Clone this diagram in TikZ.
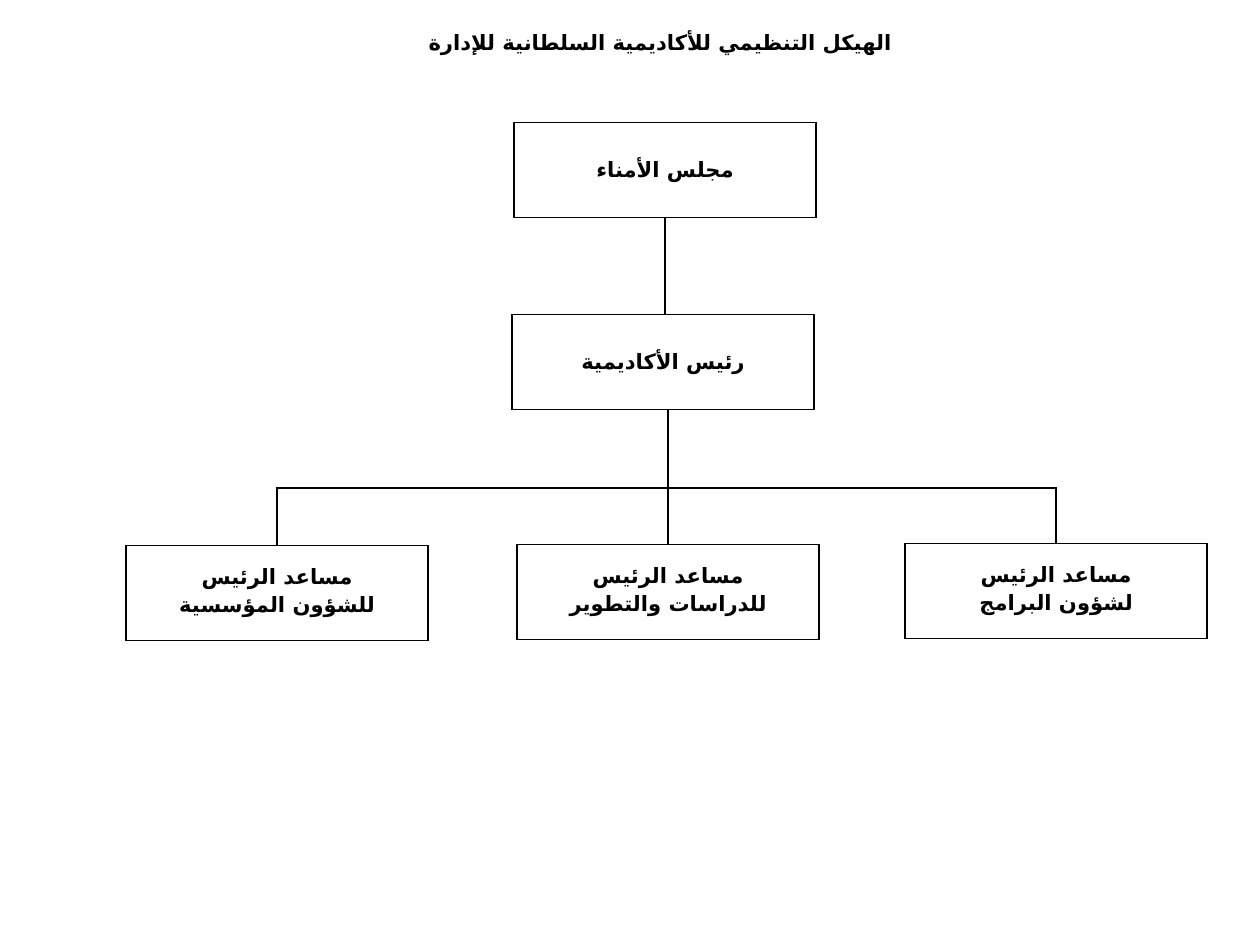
\documentclass[tikz,border=0pt]{standalone}
\usepackage{fontspec}
\newfontfamily\arabfont[Script=Arabic]{DejaVu Sans}
\usetikzlibrary{positioning}
\TeXXeTstate=1
\newcommand{\ar}[1]{\arabfont\beginR #1\endR}
\tikzset{
  unit/.style={draw, thick, minimum width=6.04cm, minimum height=1.9cm, align=center, font=\arabfont\bfseries\large},
}
\begin{document}
\begin{tikzpicture}[x=0.02cm, y=-0.02cm]
        \useasboundingbox (0,0) rectangle (1249,935);
        \node[font=\arabfont\bfseries\large] (title) at (660,43) {\ar{الهيكل التنظيمي للأكاديمية السلطانية للإدارة}};

        \node[unit] (board) at (665,170) {\ar{مجلس الأمناء}};
        \node[unit] (pres) at (663,362) {\ar{رئيس الأكاديمية}};
        \node[unit] (inst) at (277,593) {\ar{مساعد الرئيس}\\[2pt] \ar{للشؤون المؤسسية}};
        \node[unit] (dev) at (668,592) {\ar{مساعد الرئيس}\\[2pt] \ar{للدراسات والتطوير}};
        \node[unit] (prog) at (1056,591) {\ar{مساعد الرئيس}\\[2pt] \ar{لشؤون البرامج}};

        \coordinate (bus) at (668,488);
        \draw[thick] (board) -- (board |- pres.north);
        \draw[thick] (pres.south -| bus) -- (dev);
        \draw[thick] (inst) |- (bus) -| (prog);
    \end{tikzpicture}
\end{document}
